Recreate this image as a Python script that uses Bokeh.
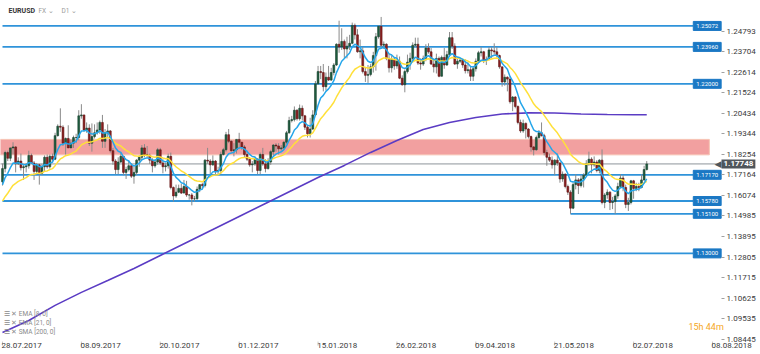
from bokeh.plotting import figure
from bokeh.models import Range1d, FixedTicker, NumeralTickFormatter, Label, ColumnDataSource
from bokeh.embed import file_html
from bokeh.resources import INLINE
from bokeh.core.properties import value

# ---------------- data (EURUSD, D1) ----------------
first_open = 1.1680
closes = [
    1.1750, 1.1835, 1.1805, 1.1860, 1.1865, 1.1775, 1.1790, 1.1755, 1.1760, 1.1765,
    1.1820, 1.1780, 1.1735, 1.1770, 1.1725, 1.1760, 1.1810, 1.1760, 1.1815, 1.1800,
    1.1925, 1.1975, 1.1970, 1.1885, 1.1910, 1.1860, 1.1885, 1.1915, 1.1915, 1.2030,
    1.2035, 1.1955, 1.1965, 1.1885, 1.1920, 1.1940, 1.1955, 1.1995, 1.1895, 1.1940,
    1.1950, 1.1845, 1.1790, 1.1745, 1.1785, 1.1815, 1.1730, 1.1745, 1.1765, 1.1710,
    1.1730, 1.1795, 1.1810, 1.1860, 1.1825, 1.1820, 1.1795, 1.1765, 1.1785, 1.1850,
    1.1780, 1.1760, 1.1765, 1.1815, 1.1650, 1.1605, 1.1625, 1.1645, 1.1620, 1.1655,
    1.1610, 1.1610, 1.1590, 1.1590, 1.1640, 1.1665, 1.1660, 1.1795, 1.1790, 1.1770,
    1.1790, 1.1735, 1.1740, 1.1825, 1.1850, 1.1930, 1.1895, 1.1845, 1.1850, 1.1905,
    1.1890, 1.1865, 1.1825, 1.1800, 1.1770, 1.1775, 1.1800, 1.1740, 1.1825, 1.1775,
    1.1750, 1.1785, 1.1840, 1.1875, 1.1870, 1.1855, 1.1860, 1.1890, 1.1940, 1.2005,
    1.2010, 1.2060, 1.2015, 1.2070, 1.2030, 1.1970, 1.1935, 1.1960, 1.2035, 1.2200,
    1.2265, 1.2260, 1.2185, 1.2235, 1.2220, 1.2260, 1.2300, 1.2410, 1.2395, 1.2425,
    1.2385, 1.2400, 1.2415, 1.2510, 1.2460, 1.2370, 1.2375, 1.2265, 1.2245, 1.2250,
    1.2290, 1.2350, 1.2450, 1.2505, 1.2405, 1.2410, 1.2335, 1.2285, 1.2330, 1.2295,
    1.2320, 1.2230, 1.2195, 1.2265, 1.2315, 1.2335, 1.2405, 1.2410, 1.2310, 1.2305,
    1.2335, 1.2390, 1.2370, 1.2305, 1.2290, 1.2335, 1.2240, 1.2340, 1.2300, 1.2355,
    1.2445, 1.2400, 1.2305, 1.2320, 1.2325, 1.2300, 1.2270, 1.2275, 1.2240, 1.2280,
    1.2320, 1.2365, 1.2370, 1.2325, 1.2330, 1.2380, 1.2375, 1.2370, 1.2350, 1.2290,
    1.2210, 1.2235, 1.2225, 1.2105, 1.2130, 1.2080, 1.1995, 1.1950, 1.1990, 1.1960,
    1.1920, 1.1865, 1.1850, 1.1915, 1.1940, 1.1925, 1.1835, 1.1810, 1.1795, 1.1770,
    1.1795, 1.1780, 1.1695, 1.1720, 1.1655, 1.1625, 1.1540, 1.1665, 1.1690, 1.1660,
    1.1695, 1.1715, 1.1775, 1.1800, 1.1770, 1.1785, 1.1740, 1.1795, 1.1570, 1.1610,
    1.1625, 1.1570, 1.1575, 1.1605, 1.1655, 1.1700, 1.1650, 1.1560, 1.1570, 1.1685,
    1.1645, 1.1655, 1.1650, 1.1690, 1.1745, 1.17748,
]
highs = [
    1.1777, 1.1845, 1.1845, 1.1860, 1.1890, 1.1870, 1.1810, 1.1830, 1.1770, 1.1780,
    1.1845, 1.1830, 1.1790, 1.1780, 1.1775, 1.1775, 1.1820, 1.1825, 1.1825, 1.1830,
    1.1940, 1.1985, 1.2070, 1.1980, 1.1915, 1.1980, 1.1905, 1.1925, 1.1935, 1.2060,
    1.2092, 1.2035, 1.1995, 1.1985, 1.1990, 1.1985, 1.1995, 1.2005, 1.2035, 1.1960,
    1.1985, 1.1955, 1.1860, 1.1800, 1.1810, 1.1835, 1.1815, 1.1760, 1.1795, 1.1780,
    1.1760, 1.1800, 1.1820, 1.1875, 1.1880, 1.1870, 1.1830, 1.1805, 1.1800, 1.1860,
    1.1860, 1.1800, 1.1780, 1.1830, 1.1835, 1.1655, 1.1665, 1.1665, 1.1670, 1.1690,
    1.1685, 1.1615, 1.1620, 1.1605, 1.1655, 1.1665, 1.1675, 1.1800, 1.1860, 1.1800,
    1.1820, 1.1795, 1.1760, 1.1840, 1.1860, 1.1945, 1.1960, 1.1900, 1.1885, 1.1905,
    1.1940, 1.1890, 1.1875, 1.1845, 1.1810, 1.1790, 1.1810, 1.1805, 1.1835, 1.1860,
    1.1800, 1.1805, 1.1850, 1.1880, 1.1885, 1.1885, 1.1875, 1.1895, 1.1950, 1.2025,
    1.2030, 1.2080, 1.2065, 1.2090, 1.2085, 1.2035, 1.1980, 1.2020, 1.2060, 1.2215,
    1.2295, 1.2295, 1.2305, 1.2260, 1.2295, 1.2285, 1.2310, 1.2415, 1.2535, 1.2495,
    1.2435, 1.2450, 1.2460, 1.2525, 1.2520, 1.2490, 1.2435, 1.2395, 1.2290, 1.2300,
    1.2305, 1.2370, 1.2470, 1.2510, 1.2555, 1.2425, 1.2415, 1.2360, 1.2350, 1.2340,
    1.2355, 1.2345, 1.2245, 1.2275, 1.2355, 1.2365, 1.2420, 1.2445, 1.2445, 1.2335,
    1.2350, 1.2410, 1.2415, 1.2390, 1.2335, 1.2360, 1.2345, 1.2350, 1.2390, 1.2375,
    1.2475, 1.2475, 1.2415, 1.2340, 1.2335, 1.2330, 1.2330, 1.2315, 1.2290, 1.2290,
    1.2335, 1.2375, 1.2395, 1.2375, 1.2345, 1.2395, 1.2395, 1.2415, 1.2395, 1.2355,
    1.2290, 1.2250, 1.2240, 1.2240, 1.2135, 1.2135, 1.2085, 1.2010, 1.2010, 1.1995,
    1.1965, 1.1925, 1.1870, 1.1925, 1.1955, 1.1995, 1.1935, 1.1850, 1.1830, 1.1815,
    1.1800, 1.1830, 1.1785, 1.1735, 1.1725, 1.1665, 1.1635, 1.1675, 1.1720, 1.1700,
    1.1715, 1.1725, 1.1795, 1.1840, 1.1810, 1.1815, 1.1795, 1.1800, 1.1852, 1.1620,
    1.1640, 1.1630, 1.1600, 1.1615, 1.1675, 1.1720, 1.1715, 1.1665, 1.1595, 1.1690,
    1.1690, 1.1675, 1.1675, 1.1720, 1.1765, 1.1790,
]
lows = [
    1.1660, 1.1730, 1.1790, 1.1790, 1.1825, 1.1730, 1.1770, 1.1740, 1.1690, 1.1730,
    1.1750, 1.1775, 1.1690, 1.1715, 1.1665, 1.1715, 1.1735, 1.1750, 1.1750, 1.1785,
    1.1795, 1.1920, 1.1945, 1.1870, 1.1825, 1.1860, 1.1860, 1.1860, 1.1885, 1.1900,
    1.2015, 1.1945, 1.1940, 1.1870, 1.1840, 1.1910, 1.1930, 1.1935, 1.1860, 1.1860,
    1.1910, 1.1835, 1.1770, 1.1720, 1.1720, 1.1780, 1.1715, 1.1695, 1.1735, 1.1700,
    1.1670, 1.1715, 1.1760, 1.1795, 1.1810, 1.1805, 1.1775, 1.1730, 1.1755, 1.1770,
    1.1770, 1.1725, 1.1735, 1.1750, 1.1640, 1.1575, 1.1595, 1.1620, 1.1615, 1.1620,
    1.1600, 1.1585, 1.1555, 1.1575, 1.1585, 1.1625, 1.1640, 1.1650, 1.1775, 1.1720,
    1.1765, 1.1720, 1.1715, 1.1720, 1.1820, 1.1840, 1.1885, 1.1840, 1.1815, 1.1830,
    1.1855, 1.1850, 1.1810, 1.1790, 1.1760, 1.1730, 1.1765, 1.1720, 1.1720, 1.1765,
    1.1730, 1.1745, 1.1770, 1.1820, 1.1840, 1.1825, 1.1845, 1.1850, 1.1880, 1.1935,
    1.1995, 1.2000, 1.2005, 1.2005, 1.2005, 1.1955, 1.1915, 1.1915, 1.1955, 1.2030,
    1.2195, 1.2225, 1.2160, 1.2165, 1.2215, 1.2215, 1.2245, 1.2295, 1.2365, 1.2380,
    1.2335, 1.2335, 1.2380, 1.2410, 1.2435, 1.2365, 1.2335, 1.2255, 1.2210, 1.2205,
    1.2240, 1.2260, 1.2270, 1.2440, 1.2390, 1.2385, 1.2325, 1.2260, 1.2260, 1.2275,
    1.2280, 1.2225, 1.2190, 1.2155, 1.2255, 1.2275, 1.2320, 1.2395, 1.2300, 1.2275,
    1.2295, 1.2320, 1.2360, 1.2300, 1.2260, 1.2255, 1.2235, 1.2240, 1.2280, 1.2295,
    1.2345, 1.2385, 1.2300, 1.2280, 1.2310, 1.2285, 1.2255, 1.2255, 1.2215, 1.2215,
    1.2265, 1.2310, 1.2345, 1.2310, 1.2300, 1.2325, 1.2335, 1.2355, 1.2340, 1.2280,
    1.2185, 1.2190, 1.2160, 1.2095, 1.2055, 1.2070, 1.1985, 1.1940, 1.1940, 1.1910,
    1.1910, 1.1840, 1.1820, 1.1845, 1.1905, 1.1920, 1.1820, 1.1765, 1.1785, 1.1750,
    1.1715, 1.1765, 1.1675, 1.1680, 1.1645, 1.1610, 1.1510, 1.1535, 1.1640, 1.1615,
    1.1650, 1.1650, 1.1710, 1.1765, 1.1725, 1.1760, 1.1730, 1.1725, 1.1560, 1.1540,
    1.1590, 1.1530, 1.1535, 1.1510, 1.1590, 1.1645, 1.1630, 1.1540, 1.1525, 1.1560,
    1.1590, 1.1630, 1.1630, 1.1645, 1.1685, 1.1740,
]

# SMA 200 (at every 10th bar)
sma_idx = [0, 10, 20, 30, 40, 50, 60, 70, 80, 90, 100, 110, 120, 130, 140, 150,
           160, 170, 180, 190, 200, 210, 220, 230, 240, 245]
sma_vals = [1.0880, 1.0944, 1.1024, 1.1093, 1.1156, 1.1220, 1.1289, 1.1358, 1.1427,
            1.1496, 1.1565, 1.1634, 1.1703, 1.1767, 1.1836, 1.1899, 1.1958, 1.1995,
            1.2021, 1.2040, 1.2046, 1.2045, 1.2040, 1.2037, 1.2036, 1.2036]

ema8_seed = 1.1640
ema21_seed = 1.1560

levels = [1.25072, 1.23960, 1.22000, 1.17170, 1.15780, 1.15100, 1.13000]
level_start = [0, 0, 0, 0, 0, 216, 0]
level_text = ["1.25072", "1.23960", "1.22000", "1.17170", "1.15780", "1.15100", "1.13000"]

zone_low, zone_high = 1.1823, 1.1905
last_price = 1.17748

x_tick_idx = [0, 30, 60, 90, 120, 150, 180, 210, 240, 270]
x_tick_text = ["28.07.2017", "08.09.2017", "20.10.2017", "01.12.2017", "15.01.2018",
               "26.02.2018", "09.04.2018", "21.05.2018", "02.07.2018", "08.08.2018"]
y_ticks = [1.08445, 1.09535, 1.10625, 1.11715, 1.12805, 1.13895, 1.14985, 1.16074,
           1.17164, 1.18254, 1.19344, 1.20434, 1.21524, 1.22614, 1.23704, 1.24793]

# ---------------- derived ----------------
n = len(closes)
idx = list(range(n))
opens = [first_open] + closes[:-1]

def ema(vals, period, seed):
    a = 2.0 / (period + 1)
    out, prev = [], seed
    for v in vals:
        prev = prev + a * (v - prev)
        out.append(prev)
    return out

ema8 = ema(closes, 8, ema8_seed)
ema21 = ema(closes, 21, ema21_seed)

up = [i for i in idx if closes[i] >= opens[i]]
dn = [i for i in idx if closes[i] < opens[i]]
src_up = ColumnDataSource(dict(x=up, top=[closes[i] for i in up], bottom=[opens[i] for i in up]))
src_dn = ColumnDataSource(dict(x=dn, top=[opens[i] for i in dn], bottom=[closes[i] for i in dn]))

FONT = "Roboto"
Y_AXIS_X = 273.45       # x position (bar units) of the price scale
X_AXIS_Y = 1.0832       # price level of the date scale
LABEL_SHIFT = 7.3       # date labels start at their tick
TICK_LEN = 0.0022       # date tick mark length (price units)

p = figure(width=760, height=354, x_range=Range1d(-0.76, 288.26), y_range=Range1d(1.07633, 1.26423),
           y_axis_location="right", output_backend="svg", toolbar_location=None,
           min_border_left=0, min_border_right=0, min_border_top=0, min_border_bottom=0)
p.grid.visible = False
p.outline_line_color = None
p.background_fill_color = "white"

# zone
p.quad(left=-1, right=268.8, bottom=zone_low, top=zone_high, fill_color="#f19b9b",
       fill_alpha=0.95, line_color="#f6c3b3", line_width=1)

# current price line
p.segment(x0=-1, y0=last_price, x1=Y_AXIS_X, y1=last_price, line_color="#8d949b", line_width=1)

# levels
lsrc = ColumnDataSource(dict(x0=level_start, y=levels, x1=[262.6] * len(levels),
                             xc=[268.0] * len(levels), t=level_text))
p.segment(x0="x0", y0="y", x1="x1", y1="y", source=lsrc, line_color="#2f93da", line_width=1.8)
p.rect(x="xc", y="y", width=10.6, height=9, height_units="screen", source=lsrc,
       fill_color="#1b78c4", line_color="#1b78c4")
p.text(x="xc", y="y", text="t", source=lsrc, text_color="white", text_font_size="6px",
       text_align="center", text_baseline="middle", text_font=value(FONT))

# SMA 200
p.line(sma_idx, sma_vals, line_color="#5b3cc4", line_width=1.6)

# candles
p.segment(x0=idx, y0=highs, x1=idx, y1=lows, line_color="#8a8a8a", line_width=1)
p.vbar(x="x", top="top", bottom="bottom", width=0.7, source=src_up,
       fill_color="#1f5e40", line_color="#173f2d", line_width=0.6)
p.vbar(x="x", top="top", bottom="bottom", width=0.7, source=src_dn,
       fill_color="#8e1f1f", line_color="#5e1414", line_width=0.6)

# EMAs
p.line(idx, ema21, line_color="#ffe03a", line_width=1.5)
p.line(idx, ema8, line_color="#25a6ea", line_width=1.5)

# date axis (labels placed just right of their ticks)
xa = p.xaxis[0]
xa.fixed_location = X_AXIS_Y
xa.ticker = FixedTicker(ticks=[t + LABEL_SHIFT for t in x_tick_idx])
xa.major_label_overrides = {t + LABEL_SHIFT: s for t, s in zip(x_tick_idx, x_tick_text)}
xa.major_label_text_font_size = "8px"
xa.major_label_text_color = "#3a3a3a"
xa.major_label_text_font = FONT
xa.axis_line_color = None
xa.major_tick_line_color = None
xa.major_tick_in = 0
xa.major_tick_out = 0
xa.minor_tick_line_color = None
xa.major_label_standoff = 1

# small tick marks at the date positions
p.segment(x0=x_tick_idx, y0=[X_AXIS_Y] * len(x_tick_idx), x1=x_tick_idx,
          y1=[X_AXIS_Y - TICK_LEN] * len(x_tick_idx), line_color="#c8c8c8", line_width=1)

ya = p.yaxis[0]
ya.fixed_location = Y_AXIS_X
ya.ticker = FixedTicker(ticks=y_ticks)
ya.formatter = NumeralTickFormatter(format="0.00000")
ya.major_label_text_font_size = "8px"
ya.major_label_text_color = "#3a3a3a"
ya.major_label_text_font = FONT
ya.axis_line_color = None
ya.major_tick_line_color = "#a0a0a0"
ya.major_tick_in = 0
ya.major_tick_out = 3
ya.minor_tick_line_color = None
ya.major_label_standoff = 2

# labels / texts
p.add_layout(Label(x=8, y=344, x_units="screen", y_units="screen", text="EURUSD",
                   text_font=FONT, text_font_size="7px", text_font_style="bold",
                   text_color="#333333", text_baseline="middle"))
p.add_layout(Label(x=38, y=344, x_units="screen", y_units="screen", text="FX  ⌄",
                   text_font=FONT, text_font_size="6.5px", text_color="#9a9a9a", text_baseline="middle"))
p.add_layout(Label(x=61, y=344, x_units="screen", y_units="screen", text="D1    ⌄",
                   text_font=FONT, text_font_size="6.5px", text_color="#9a9a9a", text_baseline="middle"))

for k, t in enumerate(["☰ ✕ EMA  [8, 0]", "☰ ✕ EMA  [21, 0]", "☰ ✕ SMA  [200, 0]"]):
    p.add_layout(Label(x=3, y=41 - 9 * k, x_units="screen", y_units="screen", text=t,
                       text_font=FONT, text_font_size="6.5px", text_color="#8a8a8a",
                       text_baseline="middle"))

p.add_layout(Label(x=688, y=28, x_units="screen", y_units="screen", text="15h 44m",
                   text_font=FONT, text_font_size="9px", text_color="#f5a623", text_baseline="middle"))

p.add_layout(Label(x=714, y=last_price, x_units="screen", y_units="data", text="◀",
                   text_font="DejaVu Sans", text_font_size="9px", text_color="#50565c",
                   text_baseline="middle"))
p.add_layout(Label(x=721, y=last_price, x_units="screen", y_units="data", text="1.17748",
                   text_font=FONT, text_font_size="8px", text_font_style="bold",
                   text_color="white", text_baseline="middle",
                   background_fill_color="#50565c", padding=2))

html = file_html(p, INLINE)
open("out.html", "w").write(html)
